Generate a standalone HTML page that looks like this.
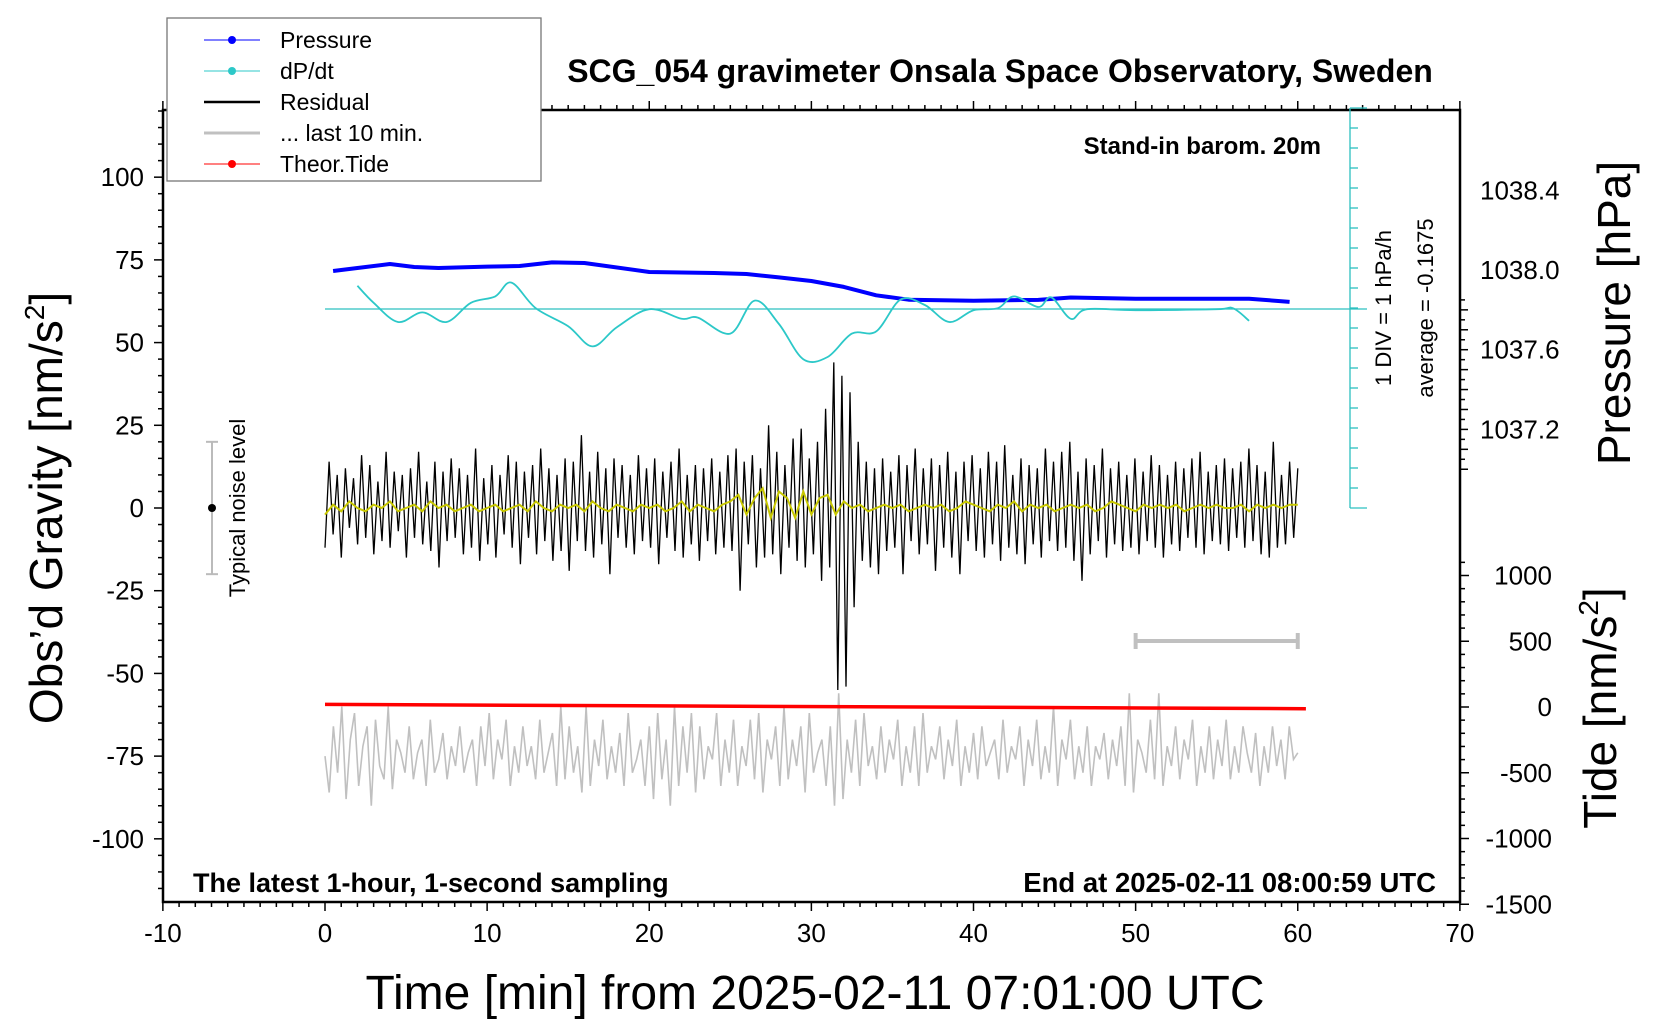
<!DOCTYPE html>
<html><head><meta charset="utf-8"><style>
body{margin:0;background:#fff}
svg{display:block;font-family:"Liberation Sans",Arial,sans-serif}
</style></head><body>
<svg id="c" width="1660" height="1020" xmlns="http://www.w3.org/2000/svg"></svg>
<script>
// ---- data ----
const pressureTimes=[0.5,2,4,5.5,7,10,12,14,16,20,24,26,28,30,32,34,36,40,44,46,50,57,59.5];
const pressureValues=[1037.995,1038.01,1038.03,1038.015,1038.01,1038.017,1038.02,1038.038,1038.035,1037.99,1037.985,1037.98,1037.963,1037.945,1037.915,1037.873,1037.851,1037.846,1037.85,1037.862,1037.856,1037.856,1037.84];
const dpdtTimes=[2,3,4.5,6,7.5,9,10.5,11.5,13,15,16.5,18,20,22,23,25,26.5,28,29.5,31,32.5,34,35.5,37,38.5,40,41.5,42.5,44,44.8,46,47,50,55,56,57];
const dpdtValues=[1.16,0.31,-0.65,-0.17,-0.65,0.31,0.63,1.32,0.04,-0.86,-1.87,-0.91,-0.01,-0.49,-0.43,-1.23,0.42,-0.75,-2.51,-2.4,-1.23,-1.12,0.47,0.2,-0.65,-0.06,0.04,0.63,0.1,0.58,-0.49,-0.01,-0.06,-0.01,0.04,-0.59];
const residualValues=[-12,14,-8,10,-15,12,-6,9,-11,16,-9,13,-14,8,-10,17,-12,11,-7,10,
-15,12,-9,17,-11,8,-13,14,-18,11,-10,15,-9,12,-14,10,-12,18,-16,9,
-11,13,-15,10,-8,16,-12,14,-17,11,-9,13,-14,18,-10,12,-16,10,-13,15,
-19,14,-10,22,-13,11,-15,17,-11,12,-20,15,-9,13,-12,10,-14,16,-10,12,
-12,15,-17,11,-9,14,-13,18,-15,10,-11,13,-16,12,-10,15,-14,11,-12,16,
-13,18,-25,14,-11,16,-18,12,-15,25,-14,17,-20,13,-12,21,-16,24,-18,15,
-14,20,-22,30,-18,44,-55,40,-54,35,-30,20,-16,14,-18,12,-20,15,-13,11,
-12,16,-20,13,-10,18,-14,12,-11,15,-19,13,-12,17,-15,11,-20,14,-10,16,
-13,12,-15,17,-11,14,-16,19,-12,10,-14,15,-17,13,-11,12,-15,18,-10,14,
-13,17,-12,20,-16,11,-22,15,-14,13,-10,18,-15,12,-11,14,-13,10,-12,15,
-14,11,-10,16,-12,13,-15,10,-11,14,-13,12,-9,15,-12,17,-14,11,-10,13,
-11,15,-13,12,-9,14,-12,18,-10,13,-14,11,-15,20,-12,10,-11,14,-9,12];
const smoothValues=[-2,1,-1,2,0,-1,1,0,2,-1,0,1,-1,2,0,1,-1,0,1,-1,0,1,-1,0,1,-1,2,0,-1,1,0,1,-1,2,0,-1,1,0,-1,1,
0,1,-1,0,2,-1,1,0,-1,1,2,4,-2,3,6,-3,5,3,-3,5,-2,3,4,-2,2,0,1,-1,0,1,0,1,-1,0,1,0,1,-1,0,2,
1,0,-1,1,0,2,-1,1,0,1,-1,0,1,0,1,-1,0,2,1,0,-1,1,0,1,0,1,-1,0,1,0,1,0,0,1,-1,1,0,1,0,1,1];
const grayValues=[-75,-86,-66,-80,-60,-88,-70,-62,-84,-72,-66,-90,-64,-78,-82,-60,-85,-70,-74,-80,
-66,-82,-74,-70,-84,-64,-80,-76,-68,-82,-72,-78,-66,-80,-74,-70,-84,-66,-78,-62,
-82,-70,-76,-64,-84,-72,-80,-66,-78,-72,-82,-64,-80,-74,-68,-84,-60,-82,-66,-80,
-72,-86,-60,-84,-70,-78,-64,-82,-72,-80,-68,-84,-62,-80,-76,-70,-84,-66,-88,-62,
-82,-70,-90,-60,-84,-66,-80,-62,-86,-66,-82,-72,-76,-62,-84,-70,-80,-64,-84,-72,
-78,-64,-82,-62,-86,-70,-76,-66,-84,-60,-82,-70,-78,-66,-86,-62,-80,-74,-70,-84,
-66,-90,-56,-88,-70,-80,-64,-84,-62,-78,-72,-82,-66,-80,-70,-76,-64,-84,-72,-80,
-66,-84,-62,-80,-72,-76,-66,-82,-70,-78,-64,-84,-72,-80,-68,-82,-66,-78,-74,-70,
-82,-64,-80,-72,-76,-66,-84,-70,-78,-64,-82,-72,-80,-60,-84,-70,-76,-64,-82,-72,
-80,-66,-84,-72,-76,-68,-82,-70,-78,-66,-84,-56,-86,-70,-74,-80,-64,-82,-56,-84,
-72,-78,-66,-82,-70,-76,-64,-84,-72,-80,-66,-82,-70,-78,-64,-82,-72,-80,-66,-74,
-80,-68,-84,-72,-80,-66,-78,-70,-82,-66,-76,-74];
const tideTimes=[0,60.5];
const tideValues=[20,-13];
const xTicks=[-10,0,10,20,30,40,50,60,70];
const gravTicks=[100,75,50,25,0,-25,-50,-75,-100];
const pressTicks=[1038.4,1038.0,1037.6,1037.2];
const tideTicks=[1000,500,0,-500,-1000,-1500];

// ---- axes ----
const L=163,R=1460,T=110,B=902;
const X=t=>325+t*16.2125;
const YG=v=>508-v*3.3083;
const YP=p=>270-(p-1038)*199.25;
const YT=v=>707-v*0.1315;
const YD=v=>309-v*20;

const svg=document.getElementById('c');
const NS='http://www.w3.org/2000/svg';
function el(tag,attrs,parent){const e=document.createElementNS(NS,tag);for(const k in attrs)e.setAttribute(k,attrs[k]);(parent||svg).appendChild(e);return e;}
function txt(s,attrs,name){const e=el('text',attrs);e.textContent=s;


return e;}
function poly(pts,attrs,name){const e=el('polyline',Object.assign({points:pts.map(p=>p[0].toFixed(1)+','+p[1].toFixed(1)).join(' '),fill:'none'},attrs));


return e;}

// frame
const frame=el('rect',{x:L,y:T,width:R-L,height:B-T,fill:'none',stroke:'#000','stroke-width':2.5});



// x ticks
const tg=el('g',{stroke:'#000','stroke-width':1.5});


for(let t=-10;t<=70;t++){const maj=t%10===0;const len=maj?9:5;
el('line',{x1:X(t),x2:X(t),y1:B,y2:B+len},tg);el('line',{x1:X(t),x2:X(t),y1:T,y2:T-len},tg);}
xTicks.forEach(t=>txt(String(t),{x:X(t),y:B+40,'font-size':26,'text-anchor':'middle'},'x-tick-label'));
// left ticks
const lg=el('g',{stroke:'#000','stroke-width':1.5});


for(let v=-115;v<=120;v+=5){const maj=v%25===0;el('line',{x1:L,x2:L-(maj?9:5),y1:YG(v),y2:YG(v)},lg);}
gravTicks.forEach(v=>txt(String(v),{x:L-19,y:YG(v)+9,'font-size':26,'text-anchor':'end'},'y-tick-label'));
// right pressure ticks
const pg=el('g',{stroke:'#000','stroke-width':1.5});


for(let i=0;i<=17;i++){const p=1037.0+i*0.05;const y=YP(p);if(y<T||y>500)continue;el('line',{x1:R,x2:R+(i%2===0?8:5),y1:y,y2:y},pg);}
pressTicks.forEach(p=>txt(p.toFixed(1),{x:R+20,y:YP(p)+9,'font-size':26},'pressure-tick-label'));
// right tide ticks
const rg=el('g',{stroke:'#000','stroke-width':1.5});


for(let v=-1500;v<=1100;v+=100){el('line',{x1:R,x2:R+(v%500===0?9:5),y1:YT(v),y2:YT(v)},rg);}
tideTicks.forEach(v=>txt(String(v),{x:R+92,y:YT(v)+9,'font-size':26,'text-anchor':'end'},'tide-tick-label'));

// dP/dt scale bar
const sb=el('g',{stroke:'#2cc0c0','stroke-width':1.3});


el('line',{x1:1350,x2:1350,y1:108,y2:508},sb);
el('line',{x1:1350,x2:1367,y1:508,y2:508},sb);
el('line',{x1:1350,x2:1367,y1:108,y2:108},sb);
for(let y=128;y<508;y+=20)el('line',{x1:1350,x2:1358,y1:y,y2:y},sb);
const avg=el('line',{x1:X(0),x2:1367,y1:YD(0),y2:YD(0),stroke:'#2cc0c0','stroke-width':1.3});



// series
poly(grayValues.map((v,i)=>[X(i*60/(grayValues.length-1)),YG(v)]),{stroke:'#c0c0c0','stroke-width':1.6},'last-10-min-series');
poly(residualValues.map((v,i)=>[X(i*60/(residualValues.length-1)),YG(v)]),{stroke:'#000','stroke-width':1.3},'residual-series');
poly(smoothValues.map((v,i)=>[X(i*60/(smoothValues.length-1)),YG(v)]),{stroke:'#c8c800','stroke-width':2},'smoothed-residual-series');
poly(tideTimes.map((t,i)=>[X(t),YT(tideValues[i])]),{stroke:'#ff0000','stroke-width':3.5},'theoretical-tide-series');
poly(pressureTimes.map((t,i)=>[X(t),YP(pressureValues[i])]),{stroke:'#0000ff','stroke-width':4,'stroke-linejoin':'round'},'pressure-series');
(function(){const p=dpdtTimes.map((t,i)=>[X(t),YD(dpdtValues[i])]);let d='M'+p[0][0]+','+p[0][1];
for(let i=0;i<p.length-1;i++){const p0=p[i-1]||p[i],p1=p[i],p2=p[i+1],p3=p[i+2]||p2;
d+=' C'+(p1[0]+(p2[0]-p0[0])/6)+','+(p1[1]+(p2[1]-p0[1])/6)+' '+(p2[0]-(p3[0]-p1[0])/6)+','+(p2[1]-(p3[1]-p1[1])/6)+' '+p2[0]+','+p2[1];}
const e=el('path',{d:d,fill:'none',stroke:'#2cc8c8','stroke-width':1.8});

})();

// gray 10-min bar
const gb=el('g',{stroke:'#c0c0c0','stroke-width':4});


el('line',{x1:X(50),x2:X(60),y1:641,y2:641},gb);
el('line',{x1:X(50),x2:X(50),y1:633,y2:649},gb);
el('line',{x1:X(60),x2:X(60),y1:633,y2:649},gb);

// noise level
const nl=el('g',{stroke:'#bbb','stroke-width':2});


el('line',{x1:212,x2:212,y1:YG(20),y2:YG(-20)},nl);
el('line',{x1:206,x2:218,y1:YG(20),y2:YG(20)},nl);
el('line',{x1:206,x2:218,y1:YG(-20),y2:YG(-20)},nl);
el('circle',{cx:212,cy:YG(0),r:4,fill:'#000',stroke:'none'},nl);
txt('Typical noise level',{x:0,y:0,'font-size':22,'text-anchor':'middle',transform:'translate(245,508) rotate(-90)'},'noise-level-label');

// texts
txt('SCG_054 gravimeter Onsala Space Observatory, Sweden',{x:1000,y:82,'font-size':32,'font-weight':'bold','text-anchor':'middle'},'chart-title');
txt('Stand-in barom. 20m',{x:1321,y:154,'font-size':24,'font-weight':'bold','text-anchor':'end'},'barometer-note');
txt('The latest 1-hour, 1-second sampling',{x:193,y:892,'font-size':27,'font-weight':'bold'},'sampling-note');
txt('End at 2025-02-11 08:00:59 UTC',{x:1436,y:892,'font-size':27.5,'font-weight':'bold','text-anchor':'end'},'end-time-note');
txt('1 DIV = 1 hPa/h',{x:0,y:0,'font-size':22,'text-anchor':'middle',transform:'translate(1391,308) rotate(-90)'},'dpdt-scale-label');
txt('average = -0.1675',{x:0,y:0,'font-size':22,'text-anchor':'middle',transform:'translate(1433,308) rotate(-90)'},'dpdt-average-label');
txt('Time [min] from 2025-02-11 07:01:00 UTC',{x:815,y:1009,'font-size':48,'text-anchor':'middle'},'x-axis-title');
(function(){const t=txt('Obs\u2019d Gravity [nm/s',{x:0,y:0,'font-size':46,'text-anchor':'middle',transform:'translate(62,508) rotate(-90)'},'y-axis-title');
const s=el('tspan',{'font-size':28,dy:-18},t);s.textContent='2';const s2=el('tspan',{dy:18},t);s2.textContent=']';})();
txt('Pressure [hPa]',{x:0,y:0,'font-size':46,'text-anchor':'middle',transform:'translate(1630,313) rotate(-90)'},'pressure-axis-title');
(function(){const t=txt('Tide [nm/s',{x:0,y:0,'font-size':46,'text-anchor':'middle',transform:'translate(1616,708) rotate(-90)'},'tide-axis-title');
const s=el('tspan',{'font-size':28,dy:-18},t);s.textContent='2';const s2=el('tspan',{dy:18},t);s2.textContent=']';})();

// legend
const lgd=el('g',{});


el('rect',{x:167,y:18,width:374,height:163,fill:'#fff',stroke:'#777','stroke-width':1.3},lgd);
const legendLabels=['Pressure','dP/dt','Residual','... last 10 min.','Theor.Tide'];
const legendColors=['#0000ff','#2cc8c8','#000','#c0c0c0','#ff0000'];
const legendDots=[true,true,false,false,true];
legendLabels.forEach((s,i)=>{const y=40+i*31;
const g=el('g',{},lgd);


el('line',{x1:204,x2:260,y1:y,y2:y,stroke:legendColors[i],'stroke-width':legendDots[i]?1:(i===2?2.5:3)},g);
if(legendDots[i])el('circle',{cx:232,cy:y,r:4,fill:legendColors[i]},g);
const t=el('text',{x:280,y:y+8,'font-size':23},g);t.textContent=s;});
</script>
</body></html>
